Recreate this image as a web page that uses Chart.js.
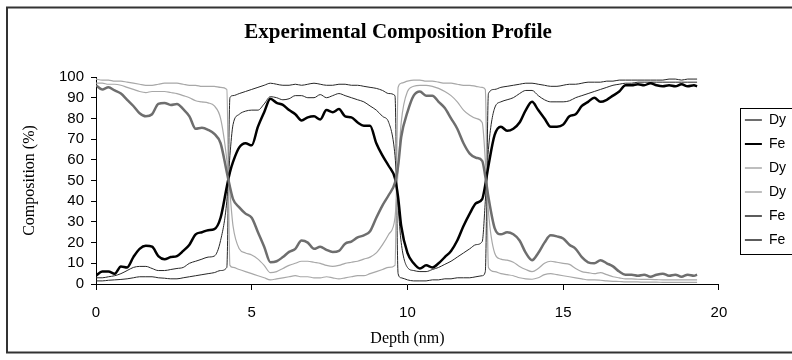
<!DOCTYPE html>
<html>
<head>
<meta charset="utf-8">
<script src="https://cdn.jsdelivr.net/npm/chart.js@4/dist/chart.umd.min.js"></script>
<style>
  html, body { margin: 0; padding: 0; background: #fff; }
  #chart { display: block; }
</style>
</head>
<body>
<canvas id="chart" width="792" height="360"></canvas>
<script>
// depth in nm (shared by every series)
const depth = [
  0, 0.2, 0.4, 0.6, 0.8, 1, 1.2, 1.4, 1.6, 1.8,
  2, 2.2, 2.4, 2.6, 2.8, 3, 3.2, 3.4, 3.6, 3.8,
  4, 4.2, 4.3, 4.4, 4.6, 4.8,
  5, 5.2, 5.4, 5.6, 5.8,
  6, 6.2, 6.4, 6.6, 6.8,
  7, 7.2, 7.4, 7.6, 7.8,
  8, 8.2, 8.4, 8.6, 8.8,
  9, 9.2, 9.4, 9.6, 9.7, 9.8,
  10, 10.2, 10.4, 10.6, 10.8,
  11, 11.2, 11.4, 11.6, 11.8,
  12, 12.2, 12.4, 12.5, 12.6, 12.8,
  13, 13.2, 13.4, 13.6, 13.8,
  14, 14.2, 14.4, 14.6, 14.8,
  15, 15.2, 15.4, 15.6, 15.8,
  16, 16.2, 16.4, 16.6, 16.8,
  17, 17.2, 17.4, 17.6, 17.8,
  18, 18.2, 18.4, 18.6, 18.8,
  19, 19.2, 19.3
];

// thick grey Dy
const dyMeasured = [
  96, 94, 95, 93.5, 92, 89, 86, 82.5, 81, 82,
  87, 87.5, 86.5, 87, 84.5, 81, 75, 75.5, 74.5, 72.5,
  68, 54, 47, 41, 37, 34,
  32, 25, 18, 10.5, 11,
  13, 15.5, 17, 21, 20,
  17, 18, 16.5, 15.5, 16,
  19.5, 20.5, 22.5, 23.5, 25.5,
  32, 38, 43, 49, 57, 71,
  83, 91, 93, 91, 91,
  88, 85, 80, 75, 68,
  63, 61, 59.5, 52, 42, 27,
  24, 25, 24, 21, 15,
  11.5, 15, 20, 23.5, 23,
  22, 19, 17, 13, 10.5,
  10, 11.5, 10, 8.5, 6,
  4.5, 4.5, 4, 4.5, 3.5,
  4.5, 5, 4, 4.5, 3.5,
  4.5, 4, 4.5
];

// thick black Fe
const feMeasured = [
  4, 6, 6, 5, 8.5, 8, 13, 17, 18.5, 18,
  13.5, 12, 13, 13.5, 16, 19, 24, 25, 26, 26.5,
  32, 47, 54, 59, 66, 68,
  67, 76, 83, 89.5, 87.5,
  86.5, 84, 82, 79, 80.5,
  81, 79.5, 84, 83, 84.5,
  81, 80.5, 78, 76.5, 76.5,
  68, 62, 57, 51, 42, 28,
  15, 10, 7.5, 9, 8,
  10, 13, 16, 21, 28,
  34, 39, 41, 48, 57, 72,
  76, 74, 75, 78, 84,
  88, 84, 80, 76, 76,
  77, 81, 82, 86, 88,
  90, 88, 89, 91, 93,
  96, 96, 96.5, 96, 97,
  96, 95.5, 96, 95.5, 96.5,
  95.5, 96, 95.5
];

// thin light grey Dy, smooth profile
const dySmooth = [
  97, 97, 96.5, 96.5, 96, 95, 94, 93, 92.5, 93,
  93, 93, 92.5, 92, 91, 90, 88.5, 88, 87.5, 86,
  80, 60, 44, 28, 17, 15,
  14, 12, 9, 5.5, 6,
  7.5, 9, 10, 11, 11,
  10.5, 10, 9, 8.5, 9,
  10, 10.5, 11, 12, 13,
  15, 19, 24, 32, 55, 78,
  93, 95.5, 96, 96, 95.5,
  94.5, 93, 91, 88, 84,
  81.5, 80, 78, 60, 35, 15,
  12, 11.5, 10.5, 8.5, 7,
  6, 7.5, 10, 11, 10.5,
  10, 9.5, 7.5, 6, 5.5,
  5, 5.5, 4.5, 3.5, 3,
  2.5, 2.5, 2.3, 2.2, 2.2,
  2.1, 2, 2, 2, 2,
  2, 2, 2
];

// thin light grey Dy, sharp profile
const dySharp = [
  99, 98.5, 98.5, 98, 98, 97.5, 97, 96.5, 96, 96,
  96.5, 97, 97, 97, 96.5, 96, 96, 95.5, 95.5, 95.5,
  95, 94, 9, 8, 7, 6,
  5, 4, 3, 2, 2.5,
  3, 3.5, 4, 3.5, 3.5,
  3, 3, 3.5, 3, 2.5,
  3, 3.5, 4, 4, 5,
  6, 7, 8, 9, 95, 97,
  98, 98.5, 98.5, 98, 98,
  97.5, 97, 97, 96.5, 96,
  96, 95.5, 95, 94, 8, 6,
  5, 4.5, 4, 3, 2.5,
  2.3, 3, 4.5, 5, 4.5,
  4, 3.5, 3, 2.5, 2,
  2, 1.8, 1.5, 1.3, 1.2,
  1, 1, 1, 0.9, 0.9,
  0.9, 0.8, 0.8, 0.8, 0.8,
  0.8, 0.8, 0.8
];

// thin dark Fe, smooth profile
const feSmooth = [
  3, 3, 3.5, 4, 5, 6.5, 8, 8.5, 8.5, 7.5,
  6.5, 6.5, 7, 7.5, 8, 10, 11, 12, 13, 13.5,
  21, 40, 62, 77, 82, 83.5,
  84, 84, 87, 90.5, 90,
  89, 89.5, 91, 91, 90,
  90, 91.5, 90, 91, 92,
  91, 90, 89, 88, 86,
  84, 81, 78, 62, 38, 20,
  8, 6.5, 6, 6, 7,
  8, 9.5, 11, 13, 15,
  17, 19, 20.5, 40, 65, 85,
  88, 89, 90, 92, 93.5,
  93.5, 91, 89, 88, 88,
  88, 88.5, 90, 91, 92,
  93, 94, 95, 96, 96.5,
  97, 97, 97.5, 97.5, 97.5,
  97.5, 97.5, 97.5, 97.5, 97.5,
  97.5, 97.5, 97.5
];

// thin dark Fe, sharp profile
const feSharp = [
  1.5, 1.5, 1.8, 2, 2.2, 2.5, 3, 3.5, 3.5, 3.5,
  3, 2.8, 2.5, 2.5, 3, 3.5, 4, 4.5, 5, 5.5,
  6.5, 8, 90, 91, 92, 93,
  94, 95, 96, 97, 96.5,
  96, 96, 96.5, 96, 96.5,
  97, 96.5, 96, 96, 96.5,
  96.5, 96, 96, 95.5, 95,
  94.5, 93.5, 92, 91, 5, 3,
  2, 1.5, 1.5, 1.5, 2,
  2, 2.5, 2.5, 3, 3,
  3, 3.5, 4, 6, 92, 94,
  95, 95.5, 96, 96.5, 97,
  97, 96.5, 96, 95.5, 95.5,
  96, 96.5, 96.5, 97, 97.5,
  97.5, 97.5, 98, 98, 98.5,
  98.5, 98.5, 98.5, 98.5, 98.5,
  98.5, 98.5, 99, 99, 98.5,
  99, 99, 99
];

const seriesLabels = ['Dy', 'Fe', 'Dy', 'Dy', 'Fe', 'Fe'];
const xTicks = [0, 5, 10, 15, 20];
const yTicks = [0, 10, 20, 30, 40, 50, 60, 70, 80, 90, 100];

const sans = 'Arial, "Liberation Sans", sans-serif';
const serif = '"Times New Roman", "Liberation Serif", serif';

function toPoints(values) {
  return depth.map((d, i) => ({ x: d, y: values[i] }));
}

// outer frame and the box round the legend
const framePlugin = {
  id: 'frame',
  afterDraw(chart) {
    const ctx = chart.ctx;
    ctx.save();
    ctx.strokeStyle = '#333';
    ctx.lineWidth = 2;
    ctx.strokeRect(7, 7.5, 800, 345);

    const lg = chart.legend;
    const boxes = lg && lg.legendHitBoxes;
    if (boxes && boxes.length) {
      const top = Math.round(boxes[0].top) - 5;
      const last = boxes[boxes.length - 1];
      const bottom = Math.round(last.top + last.height) + 7;
      ctx.strokeStyle = '#000';
      ctx.lineWidth = 1;
      ctx.strokeRect(Math.round(lg.left + 5) + 0.5, top + 0.5, 100, bottom - top);
    }
    ctx.restore();
  }
};

const styles = [
  { color: '#6e6e6e', width: 2.5 },
  { color: '#000000', width: 2.5 },
  { color: '#a8a8a8', width: 1.2 },
  { color: '#a8a8a8', width: 1.2 },
  { color: '#262626', width: 1 },
  { color: '#262626', width: 1 }
];
const seriesValues = [dyMeasured, feMeasured, dySmooth, dySharp, feSmooth, feSharp];

const datasets = seriesValues.map((vals, i) => ({
  label: seriesLabels[i],
  data: toPoints(vals),
  borderColor: styles[i].color,
  backgroundColor: styles[i].color,
  borderWidth: styles[i].width,
  pointRadius: 0,
  fill: false,
  cubicInterpolationMode: 'monotone'
}));

const axisGrid = { drawOnChartArea: false, drawTicks: true, color: '#000', lineWidth: 1 };

new Chart(document.getElementById('chart').getContext('2d'), {
  type: 'line',
  data: { datasets },
  plugins: [framePlugin],
  options: {
    responsive: false,
    animation: false,
    devicePixelRatio: 1,
    events: [],
    layout: { padding: { left: 0, right: -4, top: 0, bottom: 0 } },
    scales: {
      x: {
        type: 'linear',
        min: 0,
        max: 20,
        afterBuildTicks(scale) { scale.ticks = xTicks.map(v => ({ value: v })); },
        ticks: { color: '#000', font: { family: sans, size: 15 }, padding: 14, maxRotation: 0, autoSkip: false },
        grid: Object.assign({ tickLength: 6 }, axisGrid),
        border: { color: '#000', width: 1 },
        title: {
          display: true, text: 'Depth (nm)', color: '#000',
          font: { family: serif, size: 16 }, padding: { top: 0, bottom: 12 }
        },
        afterFit(scale) { scale.height = 76; }
      },
      y: {
        type: 'linear',
        min: 0,
        max: 100,
        afterBuildTicks(scale) { scale.ticks = yTicks.map(v => ({ value: v })); },
        ticks: { color: '#000', font: { family: sans, size: 15 }, padding: 7, autoSkip: false },
        grid: Object.assign({ tickLength: 5 }, axisGrid),
        border: { color: '#000', width: 1 },
        title: {
          display: true, text: 'Composition (%)', color: '#000',
          font: { family: serif, size: 16 }, padding: { top: 20, bottom: 0 }
        },
        afterFit(scale) { scale.width = 96; }
      },
      gap: {
        type: 'linear',
        position: 'right',
        display: true,
        ticks: { display: false },
        grid: { display: false },
        border: { display: false },
        afterFit(scale) { scale.width = 16; }
      }
    },
    plugins: {
      title: {
        display: true,
        text: 'Experimental Composition Profile',
        color: '#000',
        font: { family: serif, size: 21, weight: 'bold' },
        padding: { top: 20, bottom: 31.8 }
      },
      legend: {
        display: true,
        position: 'right',
        labels: {
          color: '#000',
          font: { family: sans, size: 14 },
          usePointStyle: true,
          pointStyle: 'line',
          pointStyleWidth: 17,
          padding: 10,
          generateLabels(chart) {
            return Chart.defaults.plugins.legend.labels.generateLabels(chart)
              .map(l => Object.assign(l, { lineWidth: Math.max(1.5, Math.min(l.lineWidth, 2)) }));
          }
        }
      },
      tooltip: { enabled: false }
    }
  }
});
</script>
</body>
</html>
